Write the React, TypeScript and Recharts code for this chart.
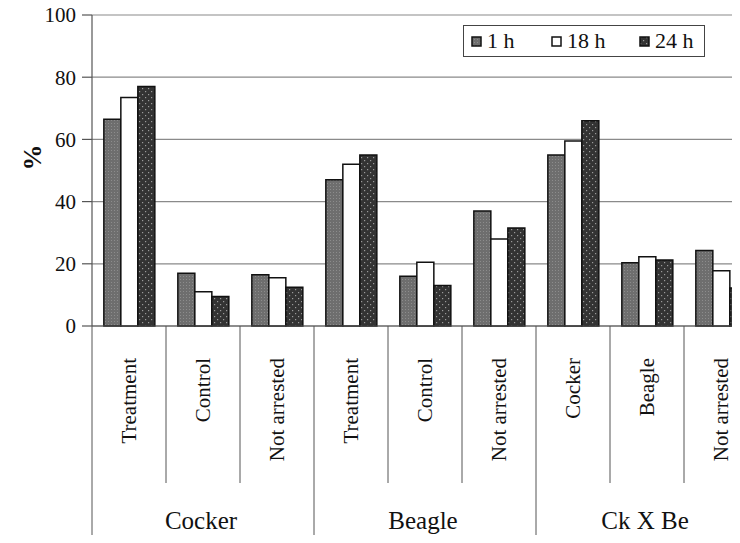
import { Bar, BarChart, CartesianGrid, XAxis, YAxis } from 'recharts';

// Three breeds, three sub-categories each, three time points per sub-category.
const groups = ['Cocker', 'Beagle', 'Ck X Be'];
const labels = [
  'Treatment', 'Control', 'Not arrested',
  'Treatment', 'Control', 'Not arrested',
  'Cocker', 'Beagle', 'Not arrested',
];
const h1 = [66.5, 17, 16.5, 47, 16, 37, 55, 20.3, 24.3];
const h18 = [73.5, 11, 15.5, 52, 20.5, 28, 59.5, 22.3, 17.8];
const h24 = [77, 9.5, 12.5, 55, 13, 31.5, 66, 21.2, 12.2];
const yTicks = [0, 20, 40, 60, 80, 100];
const seriesNames = ['1 h', '18 h', '24 h'];

const data = labels.map((label, i) => ({
  label,
  group: groups[Math.floor(i / 3)],
  h1: h1[i],
  h18: h18[i],
  h24: h24[i],
}));

const W = 780;
const H = 543;
const Y_AXIS_W = 92;
const RIGHT = 22;
const BAND = (W - Y_AXIS_W - RIGHT) / labels.length;
const FONT = 'Liberation Serif';
const FILLS = ['url(#pat1h)', '#fff', 'url(#pat24h)'];
const LEGEND_X = [7, 87, 175];

function CategoryTick(props: any) {
  const { x, y, index, payload } = props;
  const left = x - BAND / 2;
  const isGroupStart = index % 3 === 0;
  return (
    <g>
      <line
        x1={left}
        x2={left}
        y1={y}
        y2={isGroupStart ? H : y + 157}
        stroke="#555"
        strokeWidth={1}
      />
      <text
        x={0}
        y={0}
        transform={`translate(${x + 7},${y + 32}) rotate(-90)`}
        textAnchor="end"
        fontFamily={FONT}
        fontSize={21}
        fill="#111"
      >
        {payload.value}
      </text>
      {index % 3 === 1 && (
        <text
          x={x - 2}
          y={y + 203}
          textAnchor="middle"
          fontFamily={FONT}
          fontSize={25}
          fill="#111"
        >
          {data[index].group}
        </text>
      )}
    </g>
  );
}

function LegendBox() {
  return (
    <div
      style={{
        position: 'absolute',
        left: 463,
        top: 25,
        border: '1.5px solid #444',
        background: '#fff',
        width: 240,
        height: 30,
        fontFamily: FONT,
        fontSize: 22,
        color: '#111',
      }}
    >
      {seriesNames.map((name, i) => (
        <span
          key={name}
          style={{
            position: 'absolute',
            left: LEGEND_X[i],
            top: 0,
            height: 30,
            display: 'flex',
            alignItems: 'center',
          }}
        >
          <svg width={11} height={11} style={{ marginRight: 5 }}>
            <rect x={1} y={1} width={9} height={9} fill={FILLS[i]} stroke="#111" strokeWidth={1.5} />
          </svg>
          {name}
        </span>
      ))}
    </div>
  );
}

export default function App() {
  return (
    <div
      style={{
        position: 'relative',
        margin: -8,
        width: 740,
        height: 543,
        overflow: 'hidden',
        background: '#fff',
      }}
    >
      <BarChart
        width={W}
        height={H}
        data={data}
        margin={{ top: 15, right: RIGHT, bottom: 0, left: 0 }}
        barCategoryGap="16%"
        barGap={0}
      >
        <defs>
          <pattern id="pat1h" width="3" height="3" patternUnits="userSpaceOnUse">
            <rect width="3" height="3" fill="#6e6e6e" />
            <rect x="0" y="0" width="1" height="1" fill="#8c8c8c" />
          </pattern>
          <pattern id="pat24h" width="6" height="6" patternUnits="userSpaceOnUse">
            <rect width="6" height="6" fill="#333" />
            <rect x="1" y="1" width="1.2" height="1.2" fill="#9a9a9a" />
            <rect x="4" y="4" width="1.2" height="1.2" fill="#9a9a9a" />
          </pattern>
        </defs>
        <CartesianGrid vertical={false} stroke="#8a8a8a" strokeWidth={1.2} />
        <XAxis
          dataKey="label"
          interval={0}
          height={217}
          tickSize={0}
          tickMargin={0}
          tickLine={false}
          axisLine={{ stroke: '#555', strokeWidth: 1.2 }}
          tick={<CategoryTick />}
        />
        <YAxis
          width={Y_AXIS_W}
          domain={[0, 100]}
          ticks={yTicks}
          tickSize={10}
          tickMargin={6}
          axisLine={{ stroke: '#555', strokeWidth: 1.2 }}
          tickLine={{ stroke: '#555', strokeWidth: 1.2 }}
          tick={{ fontFamily: FONT, fontSize: 21, fill: '#111' }}
          label={{
            value: '%',
            angle: -90,
            position: 'insideLeft',
            offset: 32,
            style: { fontFamily: FONT, fontSize: 26, fontWeight: 'bold', fill: '#111' },
          }}
        />
        <Bar dataKey="h1" name={seriesNames[0]} fill={FILLS[0]} stroke="#111" strokeWidth={1.5} isAnimationActive={false} />
        <Bar dataKey="h18" name={seriesNames[1]} fill={FILLS[1]} stroke="#111" strokeWidth={1.5} isAnimationActive={false} />
        <Bar dataKey="h24" name={seriesNames[2]} fill={FILLS[2]} stroke="#111" strokeWidth={1.5} isAnimationActive={false} />
      </BarChart>
      <LegendBox />
    </div>
  );
}
